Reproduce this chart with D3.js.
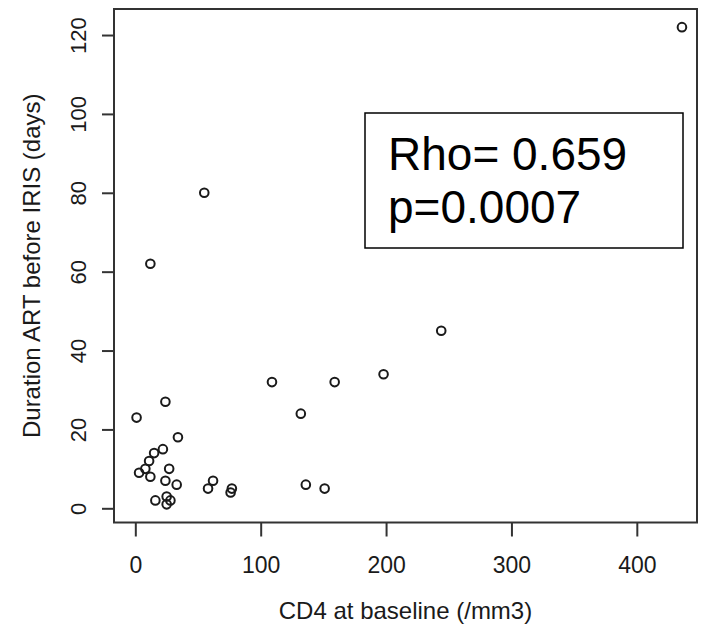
<!DOCTYPE html>
<html>
  <head>
    <meta charset="utf-8">
    <title>CD4 vs ART duration</title>
    <script src="https://cdn.jsdelivr.net/npm/d3@7"></script>
    <style>

body {
  margin: 0;
  background: #fff;
  font-family: "Liberation Sans", Arial, sans-serif;
}

circle.dot {
  fill: none;
  stroke: #1a1a1a;
  stroke-width: 2px;
}

.axis path {
  display: none;
}

.axis line {
  stroke: #333;
  stroke-width: 2px;
}

.axis text {
  fill: #1a1a1a;
  font-size: 23px;
  font-family: "Liberation Sans", Arial, sans-serif;
}

    </style>
  </head>
  <body>
    <script>

// values
var cd4 = [436, 55, 12, 244, 198, 159, 109, 132, 1, 24, 34, 22, 15, 11, 8,
           3, 12, 27, 24, 33, 16, 25, 28, 25, 62, 58, 77, 76, 136, 151];
var days = [122, 80, 62, 45, 34, 32, 32, 24, 23, 27, 18, 15, 14, 12, 10,
            9, 8, 10, 7, 6, 2, 3, 2, 1, 7, 5, 5, 4, 6, 5];
var xTicks = [0, 100, 200, 300, 400];
var yTicks = [0, 20, 40, 60, 80, 100, 120];
var statLines = ["Rho= 0.659", "p=0.0007"];

var w = 701, h = 626;
var x0 = 114, x1 = 697, y0 = 9, y1 = 522.5;

var x = d3.scaleLinear().domain([-17, 448]).range([x0, x1]);
var y = d3.scaleLinear().domain([-3.6, 126.6]).range([y1, y0]);

var svg = d3.select("body").append("svg")
    .attr("width", w)
    .attr("height", h);

// x axis
var gx = svg.append("g")
    .attr("class", "axis")
    .attr("transform", "translate(0," + y1 + ")")
    .call(d3.axisBottom(x).tickValues(xTicks).tickSize(14).tickPadding(20));

// y axis, labels turned upright like R
var gy = svg.append("g")
    .attr("class", "axis")
    .attr("transform", "translate(" + x0 + ",0)")
    .call(d3.axisLeft(y).tickValues(yTicks).tickSize(12));

gy.selectAll(".tick text")
    .attr("transform", "rotate(-90)")
    .attr("x", 0)
    .attr("y", -28)
    .attr("dy", 0)
    .attr("text-anchor", "middle")
    .style("font-size", "22px");

// plot frame
svg.append("rect")
    .attr("x", x0)
    .attr("y", y0)
    .attr("width", x1 - x0)
    .attr("height", y1 - y0)
    .attr("fill", "none")
    .attr("stroke", "#333")
    .attr("stroke-width", 2);

svg.selectAll("circle.dot")
    .data(d3.range(cd4.length))
  .enter().append("circle")
    .attr("class", "dot")
    .attr("cx", function(i) { return x(cd4[i]); })
    .attr("cy", function(i) { return y(days[i]); })
    .attr("r", 4.3);

// axis titles
svg.append("text")
    .attr("x", (x0 + x1) / 2)
    .attr("y", 619)
    .attr("text-anchor", "middle")
    .attr("fill", "#1a1a1a")
    .style("font-size", "24px")
    .text("CD4 at baseline (/mm3)");

svg.append("text")
    .attr("transform", "translate(40," + (y0 + y1) / 2 + ") rotate(-90)")
    .attr("text-anchor", "middle")
    .attr("fill", "#1a1a1a")
    .style("font-size", "24px")
    .text("Duration ART before IRIS (days)");

// correlation box
svg.append("rect")
    .attr("x", 365)
    .attr("y", 113)
    .attr("width", 318)
    .attr("height", 135)
    .attr("fill", "#fff")
    .attr("stroke", "#000")
    .attr("stroke-width", 1.5);

svg.selectAll("text.stat")
    .data(statLines)
  .enter().append("text")
    .attr("class", "stat")
    .attr("x", 388)
    .attr("y", function(d, i) { return 170 + i * 53; })
    .attr("fill", "#000")
    .style("font-size", "46px")
    .text(function(d) { return d; });

    </script>
  </body>
</html>
